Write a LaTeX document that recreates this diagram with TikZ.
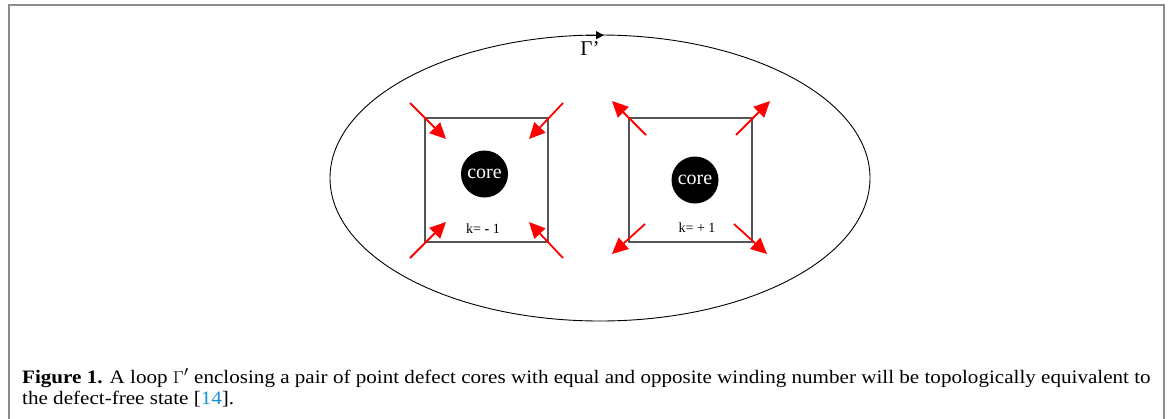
\documentclass[tikz,border=0pt]{standalone}
\usepackage{fontspec}
\setmainfont{Liberation Serif}
\usetikzlibrary{arrows.meta,shapes.geometric}
\definecolor{framegray}{HTML}{8C8C8C}
\definecolor{refblue}{HTML}{1A8FD0}
\definecolor{sqgray}{HTML}{555555}
\tikzset{
  frameline/.style={draw=framegray,line width=2pt},
  defbox/.style={draw=sqgray,line width=1.5pt,minimum width=123pt,minimum height=124pt,inner sep=0pt},
  corenode/.style={circle,fill=black,minimum size=47pt,inner sep=0pt,text=white,font=\fontsize{20}{20}\selectfont},
  klabel/.style={font=\fontsize{14}{14}\selectfont,inner sep=0pt},
  dirarrow/.style={draw=red,line width=1.8pt,-{Triangle[length=16pt,width=15pt]},shorten >=0pt},
  captext/.style={anchor=west,inner sep=0pt,font=\fontsize{19}{19}\selectfont}
}
\begin{document}
\begin{tikzpicture}[x=1pt,y=-1pt]
\useasboundingbox (0,0) rectangle (1170,418);
% frame
\draw[frameline] (9,420) -- (9,5) -- (1164,5) -- (1164,420);
% loop
\node[ellipse,draw=black,line width=0.9pt,minimum width=540pt,minimum height=286pt,inner sep=0pt] (loop) at (600,178) {};
\coordinate (lpA) at (586,35.2);
\coordinate (lpB) at (604,35.2);
\draw[line width=0.9pt,-{Triangle[length=8pt,width=8pt]}] (lpA) -- (lpB);
\node[font=\fontsize{21}{21}\selectfont,inner sep=0pt] (gam) at (590,49) {Γ’};
% left defect
\node[defbox] (sqL) at (486.5,180) {};
\node[corenode] (coreL) at (484.5,174) {core};
\node[klabel] (kL) at (483,229) {k= \textbf{-} 1};
\coordinate (L1s) at (410,103); \coordinate (L1e) at (446,139);
\coordinate (L2s) at (563,103); \coordinate (L2e) at (529,139);
\coordinate (L3s) at (410,258); \coordinate (L3e) at (446,222);
\coordinate (L4s) at (563,258); \coordinate (L4e) at (529,222);
\draw[dirarrow] (L1s) -- (L1e);
\draw[dirarrow] (L2s) -- (L2e);
\draw[dirarrow] (L3s) -- (L3e);
\draw[dirarrow] (L4s) -- (L4e);
% right defect
\node[defbox] (sqR) at (690.5,180) {};
\node[corenode] (coreR) at (695,180) {core};
\node[klabel] (kR) at (697,228) {k= + 1};
\coordinate (R1s) at (646,135); \coordinate (R1e) at (612,101);
\coordinate (R2s) at (736,135); \coordinate (R2e) at (770,101);
\coordinate (R3s) at (645,224); \coordinate (R3e) at (612,254);
\coordinate (R4s) at (734,224); \coordinate (R4e) at (767,254);
\draw[dirarrow] (R1s) -- (R1e);
\draw[dirarrow] (R2s) -- (R2e);
\draw[dirarrow] (R3s) -- (R3e);
\draw[dirarrow] (R4s) -- (R4e);
% caption
\node[captext] (cap1) at (22,378) {\scalebox{1.11}[1]{\textbf{Figure 1.} A loop $\Gamma'$ enclosing a pair of point defect cores with equal and opposite winding number will be topologically equivalent to}};
\node[captext] (cap2) at (22,399) {\scalebox{1.11}[1]{the defect-free state [\textcolor{refblue}{14}].}};
\end{tikzpicture}
\end{document}
